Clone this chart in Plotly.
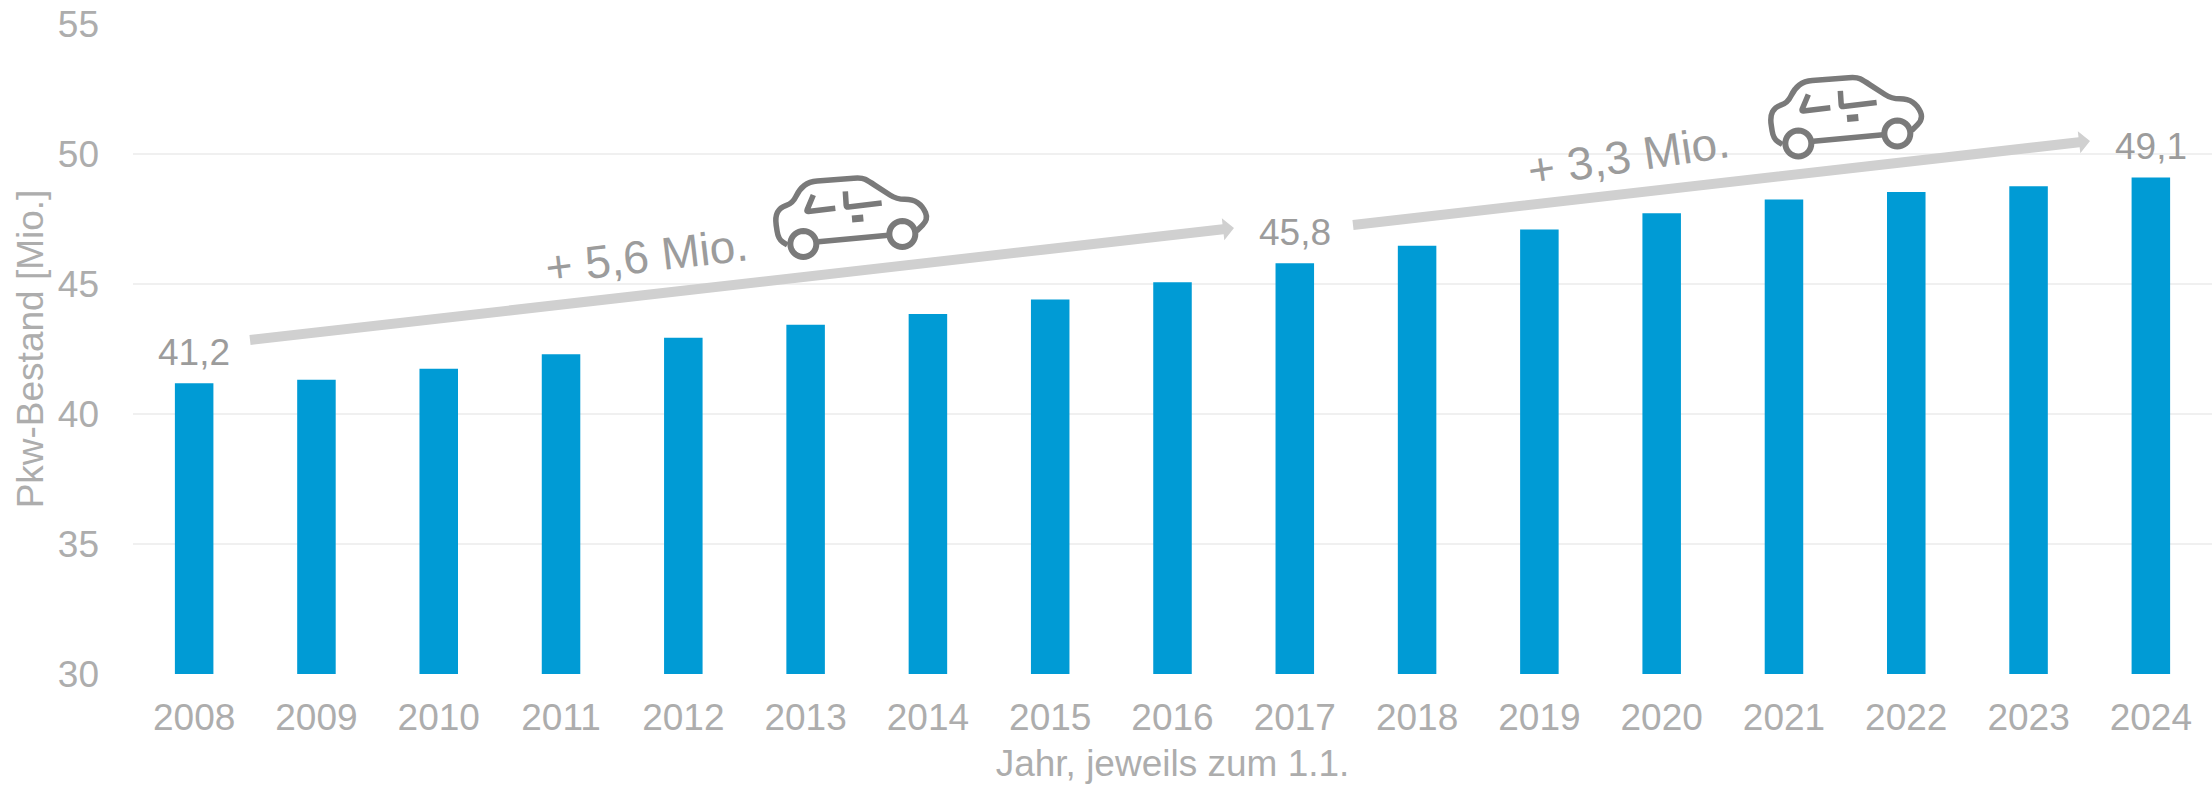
import math
import plotly.graph_objects as go

years = ["2008","2009","2010","2011","2012","2013","2014","2015","2016","2017","2018","2019","2020","2021","2022","2023","2024"]
stock = [41.18,41.32,41.74,42.30,42.93,43.43,43.85,44.40,45.07,45.80,46.47,47.10,47.72,48.25,48.54,48.76,49.10]
labelled = {"2008":"41,2","2017":"45,8","2024":"49,1"}
y_ticks = [30,35,40,45,50,55]

W,H = 2212,789
L,R,T,B = 133,0,24,115
PW,PH = W-L-R, H-T-B
FONT = "Liberation Sans, Arial, sans-serif"
TICK = "#adadad"; LABEL = "#9c9c9c"; ARROW = "#d0d0d0"; CAR = "#7a7a7a"

def px(x,y): return (x-L)/PW, (H-B-y)/PH
def P(x,y):
    a,b = px(x,y); return f"{a:.5f},{b:.5f}"
def poly(points, close=False):
    s = "M"+" L".join(P(*p) for p in points)
    return s+(" Z" if close else "")
def rounded(points, r=8):
    s = "M"+P(*points[0])
    for i in range(1,len(points)-1):
        p0,p1,p2 = points[i-1],points[i],points[i+1]
        d1,d2 = math.dist(p0,p1),math.dist(p1,p2)
        r1,r2 = min(r,d1/2),min(r,d2/2)
        a = (p1[0]+(p0[0]-p1[0])*r1/d1, p1[1]+(p0[1]-p1[1])*r1/d1)
        b = (p1[0]+(p2[0]-p1[0])*r2/d2, p1[1]+(p2[1]-p1[1])*r2/d2)
        s += f" L{P(*a)} Q{P(*p1)} {P(*b)}"
    return s+" L"+P(*points[-1])
def shape(path, **kw):
    return dict(type="path", xref="paper", yref="paper", path=path, layer="above", **kw)

def arrow(x0,y0,x1,y1,w=10,head_len=11,head_w=22):
    d = math.hypot(x1-x0,y1-y0); ux,uy=(x1-x0)/d,(y1-y0)/d; nx,ny=-uy,ux
    bx,by = x1-ux*head_len, y1-uy*head_len
    pts = [(x0+nx*w/2,y0+ny*w/2),(bx+nx*w/2,by+ny*w/2),(bx+nx*head_w/2,by+ny*head_w/2),(x1,y1),
           (bx-nx*head_w/2,by-ny*head_w/2),(bx-nx*w/2,by-ny*w/2),(x0-nx*w/2,y0-ny*w/2)]
    return shape(poly(pts,True), fillcolor=ARROW, line=dict(width=0))

def z(p): return (500+p[0]/3, 130+p[1]/3)
body = [(862,345),(835,328),(825,262),(840,232),(878,220),(898,178),(928,155),(1085,143),(1105,153),(1190,208),(1238,208),(1268,228),(1285,268),(1250,303)]
sill = [(955,335),(1165,316)]
win1 = [(940,195),(919,245),(1006,235)]
win2 = [(1036,184),(1039,232),(1145,219)]
dash = [(1056,267),(1090,264)]
wheels = [(910,342,39),(1207,312,39)]

def car(dx,dy):
    out=[]
    def tr(p):
        x,y=z(p); return (x+dx,y+dy)
    st=dict(line=dict(color=CAR,width=5.5), fillcolor="rgba(0,0,0,0)")
    out.append(shape(rounded([tr(p) for p in body],8),**st))
    out.append(shape(poly([tr(p) for p in sill]),**st))
    out.append(shape(rounded([tr(p) for p in win1],2),**st))
    out.append(shape(rounded([tr(p) for p in win2],2),**st))
    out.append(shape(poly([tr(p) for p in dash]),line=dict(color=CAR,width=7),fillcolor="rgba(0,0,0,0)"))
    for cx,cy,r in wheels:
        x,y=tr((cx,cy)); rr=r/3
        a=[(x+rr*math.cos(t*math.pi/18),y+rr*math.sin(t*math.pi/18)) for t in range(36)]
        out.append(shape(poly(a,True),line=dict(color=CAR,width=6),fillcolor="white"))
    return out

fig = go.Figure(go.Bar(x=years,y=stock,width=0.315,marker=dict(color="#009BD5",line=dict(width=0))))

annos=[]
for yr,txt in labelled.items():
    annos.append(dict(x=years.index(yr),y=stock[years.index(yr)],xref="x",yref="y",text=txt,showarrow=False,yshift=31,
                      xanchor="center",yanchor="middle",font=dict(family=FONT,size=37,color=LABEL)))
for txt,cx,cy,rot in [("+ 5,6 Mio.",646,256,-6.7),("+ 3,3 Mio.",1628,156,-8.5)]:
    a,b=px(cx,cy)
    annos.append(dict(x=a,y=b,xref="paper",yref="paper",text=txt,showarrow=False,textangle=rot,
                      xanchor="center",yanchor="middle",font=dict(family=FONT,size=46,color=LABEL)))

shapes=[arrow(250,340,1234,228),arrow(1353,225,2090,141)]+car(0,0)+car(995,-100.5)

fig.update_layout(width=W,height=H,autosize=False,margin=dict(l=L,r=R,t=T,b=B,pad=0),
    paper_bgcolor="white",plot_bgcolor="white",showlegend=False,
    annotations=annos,shapes=shapes,
    xaxis=dict(type="category",categoryorder="array",categoryarray=years,range=[-0.5,16.5],
               tickfont=dict(family=FONT,size=37,color=TICK),ticks="",showline=False,showgrid=False,
               ticklabelstandoff=18,automargin=False,
               title=dict(text="Jahr, jeweils zum 1.1.",font=dict(family=FONT,size=37,color=TICK),standoff=13)),
    yaxis=dict(range=[30,55],tickvals=y_ticks,ticktext=[str(v) for v in y_ticks],tickfont=dict(family=FONT,size=37,color=TICK),
               ticks="",showline=False,gridcolor="#f0f0f0",gridwidth=2,zeroline=False,ticklabelstandoff=33,automargin=False,
               title=dict(text="Pkw-Bestand [Mio.]",font=dict(family=FONT,size=37,color=TICK),standoff=2)))

fig.write_html("out.html",config={"displayModeBar":False},post_script="document.body.style.margin='0';")
